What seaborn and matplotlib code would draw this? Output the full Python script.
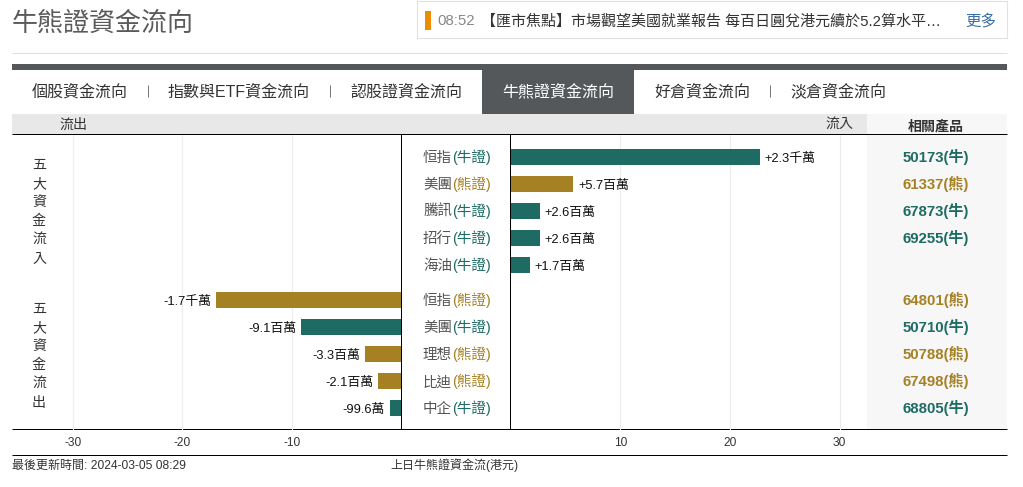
import pandas as pd
import matplotlib
matplotlib.use('Agg')
import matplotlib.pyplot as plt
import seaborn as sns

# values in millions of HKD
in_names = ['恒指', '美團', '騰訊', '招行', '海油']
in_types = ['牛證', '熊證', '牛證', '牛證', '牛證']
in_values = [22.7, 5.7, 2.65, 2.65, 1.75]
in_labels = ['+2.3千萬', '+5.7百萬', '+2.6百萬', '+2.6百萬', '+1.7百萬']
in_codes = ['50173(牛)', '61337(熊)', '67873(牛)', '69255(牛)', '']

out_names = ['恒指', '美團', '理想', '比迪', '中企']
out_types = ['熊證', '牛證', '熊證', '熊證', '牛證']
out_values = [-16.9, -9.1, -3.3, -2.1, -0.996]
out_labels = ['-1.7千萬', '-9.1百萬', '-3.3百萬', '-2.1百萬', '-99.6萬']
out_codes = ['64801(熊)', '50710(牛)', '50788(熊)', '67498(熊)', '68805(牛)']

left_ticks = [-30, -20, -10]
right_ticks = [10, 20, 30]
tabs = ['個股資金流向', '指數與ETF資金流向', '認股證資金流向', '牛熊證資金流向', '好倉資金流向', '淡倉資金流向']

W, H = 1023, 487
TEAL = '#1e6b64'
GOLD = '#a68124'
colors = {'牛證': TEAL, '熊證': GOLD}

sns.set_theme(style='white')
plt.rcParams['font.family'] = ['Liberation Sans', 'Noto Sans CJK TC']
plt.rcParams['axes.unicode_minus'] = False

fig = plt.figure(figsize=(W / 100, H / 100), dpi=100, facecolor='white')


def px_axes(x0, y0, x1, y1):
    ax = fig.add_axes([x0 / W, 1 - y1 / H, (x1 - x0) / W, (y1 - y0) / H])
    ax.patch.set_alpha(0)
    return ax


# page furniture drawn in pixel coordinates
page = px_axes(0, 0, W, H)
page.set_xlim(0, W)
page.set_ylim(H, 0)
page.axis('off')


def box(x0, y0, x1, y1, color, **kw):
    page.add_patch(plt.Rectangle((x0, y0), x1 - x0, y1 - y0, facecolor=color, edgecolor='none', **kw))


def line(x0, y0, x1, y1, color='black', lw=1):
    page.plot([x0, x1], [y0, y1], color=color, lw=lw * 0.72, solid_capstyle='butt')


def label(x, y, s, size=14, color='#333333', ha='center', **kw):
    # baseline placement so latin and CJK strings line up
    page.text(x, y + size * 0.36, s, fontsize=size * 0.72, color=color, ha=ha, va='baseline', **kw)


label(12, 21, '牛熊證資金流向', size=26, color='#5a5a5a', ha='left')
page.add_patch(plt.Rectangle((417, 1), 590, 37, facecolor='white', edgecolor='#e2e2e2', lw=0.8))
box(425, 11, 431, 30, '#ee8c00')
label(437, 20, '08:52', size=15, color='#888888', ha='left')
label(481, 20, '【匯市焦點】市場觀望美國就業報告 每百日圓兌港元續於5.2算水平…', size=15, color='#333333', ha='left')
label(965, 20, '更多', size=15.5, color='#3a6ea5', ha='left')
line(12, 53, 1007, 53, '#dddddd')

box(12, 64, 1007, 70, '#54585a')
box(482, 70, 634, 114, '#54585a')
tab_x = [80, 239, 406, 558, 702, 838]
for x, t in zip(tab_x, tabs):
    label(x, 91, t, size=16, color='white' if t == tabs[3] else '#333333')
for x in [148, 330, 770]:
    line(x, 85, x, 97, '#777777')

box(12, 114, 867, 134, '#e8e8e8')
box(867, 114, 1007, 430, '#f7f7f7')
label(73, 124, '流出', size=14)
label(839, 124, '流入', size=14)
label(936, 125, '相關產品', size=14, fontweight='bold')
line(12, 134, 1007, 134)
line(12, 429, 1007, 429)
line(12, 455, 1007, 455)
line(401, 134, 401, 429)
line(510, 134, 510, 429)
label(12, 465, '最後更新時間: 2024-03-05 08:29', size=12, ha='left')
label(390, 465, '上日牛熊證資金流(港元)', size=12, ha='left')

for i, ch in enumerate('五大資金流入'):
    label(39, 164 + i * 18.8, ch, size=14)
for i, ch in enumerate('五大資金流出'):
    label(39, 308 + i * 18.8, ch, size=14)

# grid and value axes
ax_left = px_axes(12, 135, 401, 429.5)
ax_right = px_axes(510.5, 135, 867, 429.5)
left_lim = (-35.55, 0)
right_lim = (0, 32.5)
for ax, lim, ticks in [(ax_left, left_lim, left_ticks), (ax_right, right_lim, right_ticks)]:
    ax.set_xlim(lim)
    ax.set_xticks(ticks)
    ax.set_yticks([])
    ax.grid(axis='x', color='#ececec', lw=0.8)
    ax.set_axisbelow(True)
    sns.despine(ax=ax, left=True, bottom=True)
    ax.tick_params(axis='x', length=0, labelsize=8.6, labelcolor='#333333', pad=5.5)


def draw_rows(rect, lim, names, types, values, labels, codes, top):
    df = pd.DataFrame({'row': [n + t for n, t in zip(names, types)], 'type': types, 'value': values})
    ax = px_axes(*rect)
    sns.barplot(data=df, y='row', x='value', hue='type', palette=colors, dodge=False,
                width=0.6, legend=False, ax=ax, saturation=1, linewidth=0)
    ax.set_xlim(lim)
    ax.axis('off')
    for i, (v, s) in enumerate(zip(values, labels)):
        ax.annotate(s, (v, i), xytext=(3.6 if v > 0 else -3.6, -3.3), textcoords='offset points',
                    ha='left' if v > 0 else 'right', va='baseline', fontsize=9.3, color='#111111')
    for i, (n, t, c) in enumerate(zip(names, types, codes)):
        y = top + i * 27
        label(452, y, n, size=14.5, color='#555555', ha='right')
        label(452, y, '(' + t + ')', size=14.5, color=colors[t], ha='left', fontweight='medium')
        if c:
            label(936, y, c, size=15, color=TEAL if '牛' in c else GOLD, fontweight='bold')


draw_rows((510.5, 143.5, 867, 278.5), right_lim, in_names, in_types, in_values, in_labels, in_codes, 157)
draw_rows((12, 286.5, 401, 421.5), left_lim, out_names, out_types, out_values, out_labels, out_codes, 300)

plt.savefig('out.png', dpi=100)
plt.close()
